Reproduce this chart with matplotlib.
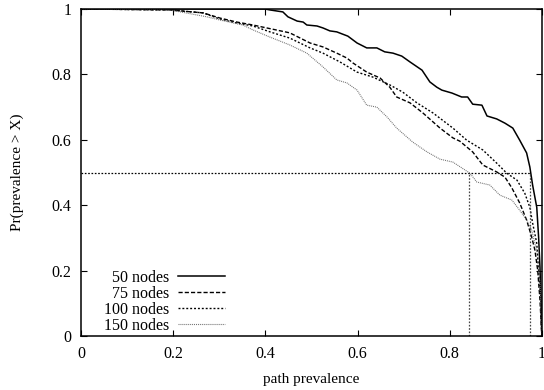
import numpy as np
import matplotlib
matplotlib.use('Agg')
import matplotlib.pyplot as plt

plt.rcParams['font.family'] = ['Liberation Serif', 'DejaVu Serif']
plt.rcParams['lines.scale_dashes'] = False

# CCDF of path prevalence, one curve per network size
x50 = [0, 0.193, 0.399, 0.410, 0.438, 0.449, 0.469, 0.482, 0.490, 0.512, 0.525, 0.540, 0.555, 0.566, 0.579,
       0.599, 0.620, 0.642, 0.659, 0.677, 0.696, 0.714, 0.740, 0.757, 0.772, 0.783, 0.805, 0.826, 0.839,
       0.850, 0.870, 0.881, 0.902, 0.920, 0.937, 0.952, 0.967, 0.974, 0.980, 0.989, 0.993, 0.996, 0.998, 1.0]
y50 = [1, 1, 1.0, 0.997, 0.991, 0.976, 0.963, 0.960, 0.951, 0.948, 0.942, 0.933, 0.930, 0.924, 0.917,
       0.896, 0.881, 0.881, 0.869, 0.865, 0.856, 0.838, 0.813, 0.777, 0.761, 0.752, 0.743, 0.731, 0.731,
       0.709, 0.706, 0.673, 0.664, 0.651, 0.636, 0.599, 0.560, 0.517, 0.462, 0.394, 0.303, 0.211, 0.110, 0.0]

x75 = [0, 0.193, 0.265, 0.302, 0.338, 0.373, 0.403, 0.453, 0.497, 0.525, 0.555, 0.577, 0.590, 0.620,
       0.649, 0.670, 0.685, 0.714, 0.742, 0.779, 0.807, 0.822, 0.850, 0.872, 0.902, 0.920, 0.935, 0.952,
       0.967, 0.978, 0.985, 0.991, 0.996, 1.0]
y75 = [1, 0.997, 0.988, 0.972, 0.960, 0.951, 0.942, 0.927, 0.896, 0.884, 0.865, 0.850, 0.835, 0.807,
       0.789, 0.761, 0.731, 0.713, 0.682, 0.636, 0.606, 0.596, 0.563, 0.523, 0.502, 0.486, 0.453, 0.407,
       0.355, 0.303, 0.263, 0.202, 0.110, 0.0]

x100 = [0, 0.193, 0.265, 0.302, 0.338, 0.373, 0.410, 0.453, 0.497, 0.525, 0.562, 0.599, 0.633, 0.670,
        0.698, 0.729, 0.764, 0.807, 0.837, 0.872, 0.902, 0.924, 0.946, 0.963, 0.974, 0.980, 0.989, 0.993,
        0.998, 1.0]
y100 = [1, 0.997, 0.988, 0.969, 0.957, 0.948, 0.930, 0.911, 0.881, 0.865, 0.838, 0.807, 0.792, 0.768,
        0.746, 0.713, 0.682, 0.636, 0.599, 0.569, 0.529, 0.498, 0.477, 0.437, 0.394, 0.346, 0.284, 0.202,
        0.110, 0.0]

x150 = [0, 0.193, 0.273, 0.302, 0.351, 0.373, 0.410, 0.453, 0.490, 0.525, 0.555, 0.577, 0.599, 0.620,
        0.642, 0.664, 0.685, 0.720, 0.751, 0.779, 0.807, 0.844, 0.859, 0.887, 0.909, 0.935, 0.952, 0.967,
        0.978, 0.985, 0.989, 0.996, 1.0]
y150 = [1, 0.997, 0.976, 0.966, 0.951, 0.936, 0.914, 0.890, 0.865, 0.823, 0.783, 0.774, 0.752, 0.706,
        0.700, 0.670, 0.636, 0.593, 0.563, 0.541, 0.532, 0.498, 0.471, 0.462, 0.431, 0.416, 0.385, 0.355,
        0.324, 0.284, 0.263, 0.162, 0.0]

# median markers
median_y = 0.5
median_x = [0.843, 0.974]

ticks = [0, 0.2, 0.4, 0.6, 0.8, 1]
tick_labels = ['0', '0.2', '0.4', '0.6', '0.8', '1']

fig = plt.figure(figsize=(5.44, 3.9), dpi=100)
ax = fig.add_axes([0.149, 0.138, 0.847, 0.839])

ax.plot(x50, y50, color='black', lw=1.1, label='50 nodes')
ax.plot(x75, y75, color='black', lw=1.0, dashes=(3.0, 1.5), label='75 nodes')
ax.plot(x100, y100, color='black', lw=1.0, dashes=(1.4, 1.4), label='100 nodes')
ax.plot(x150, y150, color='#707070', lw=0.8, dashes=(0.7, 0.7), label='150 nodes')

ax.plot([0, max(median_x)], [median_y, median_y], color='black', lw=0.9, dashes=(1.2, 1.2))
for mx in median_x:
    ax.plot([mx, mx], [0, median_y], color='#444444', lw=0.9, dashes=(1.2, 1.2))

ax.set_xlim(0, 1)
ax.set_ylim(0, 1)
ax.set_xticks(ticks)
ax.set_xticklabels(tick_labels)
ax.set_yticks(ticks)
ax.set_yticklabels(tick_labels)
ax.tick_params(direction='in', length=4, width=0.8, top=True, right=True, labelsize=11.5)
ax.tick_params(axis='x', pad=7)
ax.tick_params(axis='y', pad=7)
for s in ax.spines.values():
    s.set_linewidth(1.1)

ax.set_xlabel('path prevalence', fontsize=11, labelpad=8)
ax.set_ylabel('Pr(prevalence > X)', fontsize=11, labelpad=20)

ax.legend(loc='lower right', bbox_to_anchor=(0.317, 0.0), frameon=False, markerfirst=False,
          fontsize=11.5, handlelength=2.9, handletextpad=0.6, labelspacing=0.0,
          borderpad=0.15, borderaxespad=0.0)

fig.savefig('out.png', dpi=100)
